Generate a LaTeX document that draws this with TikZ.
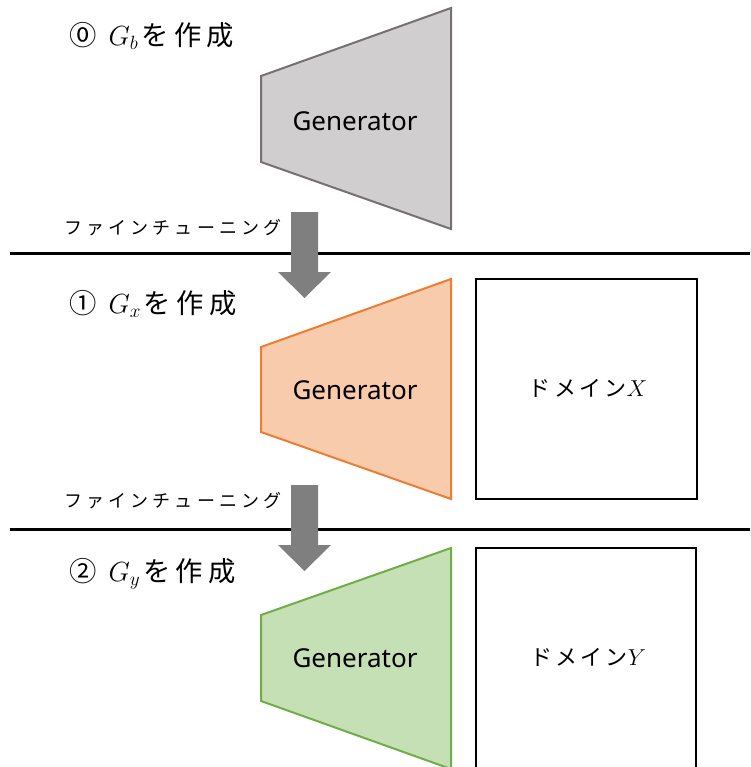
\documentclass[tikz,border=0pt]{standalone}
\usepackage{fontspec}
\setmainfont{Noto Sans}
\newfontfamily\jp{Noto Sans CJK JP}
\newfontfamily\jpsp{Noto Sans CJK JP}[LetterSpace=23]
\newfontfamily\jphead{Noto Sans CJK JP}[LetterSpace=20]
\newfontfamily\jpdom{Noto Sans CJK JP}[LetterSpace=15]
\definecolor{gfill}{HTML}{D0CECE}
\definecolor{gline}{HTML}{767171}
\definecolor{ofill}{HTML}{F8CBAD}
\definecolor{oline}{HTML}{ED7D31}
\definecolor{nfill}{HTML}{C5E0B4}
\definecolor{nline}{HTML}{70AD47}
\definecolor{arrowc}{HTML}{7F7F7F}
\tikzset{
  trap/.style={line width=1.5pt, line join=miter},
  gentext/.style={inner sep=0pt, font=\fontsize{19.5pt}{23pt}\selectfont},
  heading/.style={anchor=west, inner sep=0pt, font=\jphead\fontsize{20.5pt}{25pt}\selectfont},
  ftune/.style={anchor=west, inner sep=0pt, font=\jpsp\fontsize{13.5pt}{16pt}\selectfont},
  domainbox/.style={draw=black, line width=1.5pt},
  domaintext/.style={inner sep=0pt, font=\jpdom\fontsize{16.5pt}{20pt}\selectfont},
  sep/.style={draw=black, line width=2.25pt},
  blockarrow/.style={fill=arrowc, draw=none},
}
\newcommand{\headtxt}[2]{#1\hspace{9pt}$G_{#2}$\hspace{2pt}を作成}
\begin{document}
\begin{tikzpicture}[x=0.75pt, y=-0.75pt]
\clip (0,0) rectangle (750,767);
\fill[white] (0,0) rectangle (750,767);

% headings
\node[heading] (h0) at (69,36) {\headtxt{⓪}{b}};
\node[heading] (h1) at (69,304) {\headtxt{①}{x}};
\node[heading] (h2) at (69,574) {\headtxt{②}{y}};

% generator 0
\draw[trap, fill=gfill, draw=gline] (261,76) -- (451,8) -- (451,229) -- (261,162) -- cycle;
\node[gentext] (g0) at (355,121) {Generator};

% generator 1
\draw[trap, fill=ofill, draw=oline] (261,347) -- (451,279) -- (451,499) -- (261,432) -- cycle;
\node[gentext] (g1) at (355,390) {Generator};

% generator 2
\draw[trap, fill=nfill, draw=nline] (261,615) -- (451,548) -- (451,769) -- (261,701) -- cycle;
\node[gentext] (g2) at (355,658) {Generator};

% domain boxes
\draw[domainbox] (476,279) rectangle (697,499);
\node[domaintext] (dx) at (588,388) {ドメイン$X$};
\draw[domainbox] (476,548) rectangle (696,770);
\node[domaintext] (dy) at (588,657) {ドメイン$Y$};

% separators
\coordinate (s1a) at (10,253);
\coordinate (s1b) at (750,253);
\draw[sep] (s1a) -- (s1b);
\coordinate (s2a) at (10,529);
\coordinate (s2b) at (750,529);
\draw[sep] (s2a) -- (s2b);

% fine-tuning labels
\node[ftune] (f1) at (64,228) {ファインチューニング};
\node[ftune] (f2) at (64,501) {ファインチューニング};

% block arrows
\fill[blockarrow] (291,212) -- (318,212) -- (318,272) -- (331,272) -- (304.5,298) -- (278,272) -- (291,272) -- cycle;
\fill[blockarrow] (291,485) -- (318,485) -- (318,545) -- (331,545) -- (304.5,571) -- (278,545) -- (291,545) -- cycle;
\end{tikzpicture}
\end{document}
